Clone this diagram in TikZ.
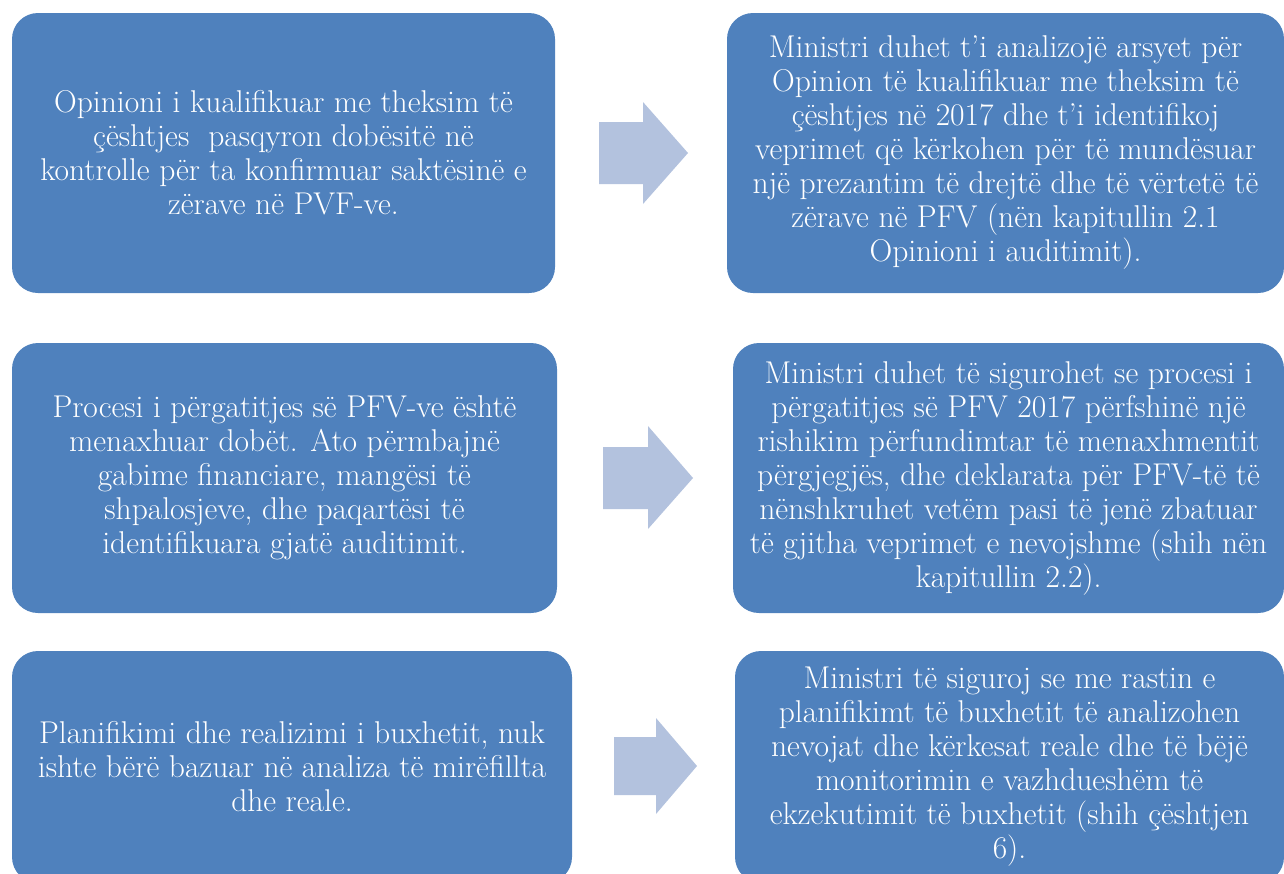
\documentclass[tikz,border=0pt]{standalone}
\usepackage{fontspec}
\definecolor{boxblue}{HTML}{4F81BD}
\definecolor{arrowblue}{HTML}{B3C2DE}
\tikzset{
  box/.style={fill=boxblue, rounded corners=26pt, text=white, align=center,
    inner sep=0pt, font=\fontsize{31.5}{34}\selectfont},
  blockarrow/.style={fill=arrowblue, draw=none}
}
\begin{document}
\begin{tikzpicture}[x=1pt,y=-1pt]
\useasboundingbox (0,0) rectangle (1284,873);
\clip (0,0) rectangle (1284,873);
\node[box, minimum width=543pt, minimum height=280pt] (l1) at (283.5,153)
 {Opinioni i kualifikuar me theksim të\\çështjes~ pasqyron dobësitë në\\kontrolle për ta konfirmuar saktësinë e\\zërave në PVF-ve.};
\node[box, minimum width=557pt, minimum height=280pt] (r1) at (1005.5,153)
 {Ministri duhet t'i analizojë arsyet për\\Opinion të kualifikuar me theksim të\\çështjes në 2017 dhe t'i identifikoj\\veprimet që kërkohen për të mundësuar\\një prezantim të drejtë dhe të vërtetë të\\zërave në PFV (nën kapitullin 2.1\\Opinioni i auditimit).};
\node[box, minimum width=545pt, minimum height=270pt] (l2) at (284.5,478)
 {Procesi i përgatitjes së PFV-ve është\\menaxhuar dobët. Ato përmbajnë\\gabime financiare, mangësi të\\shpalosjeve, dhe paqartësi të\\identifikuara gjatë auditimit.};
\node[box, minimum width=551pt, minimum height=270pt] (r2) at (1008.5,478)
 {Ministri duhet të sigurohet se procesi i\\përgatitjes së PFV 2017 përfshinë një\\rishikim përfundimtar të menaxhmentit\\përgjegjës, dhe deklarata për PFV-të të\\nënshkruhet vetëm pasi të jenë zbatuar\\të gjitha veprimet e nevojshme (shih nën\\kapitullin 2.2).};
\node[box, minimum width=560pt, minimum height=232pt] (l3) at (292,767)
 {Planifikimi dhe realizimi i buxhetit, nuk\\ishte bërë bazuar në analiza të mirëfillta\\dhe reale.};
\node[box, minimum width=549pt, minimum height=232pt] (r3) at (1009.5,767)
 {Ministri të siguroj se me rastin e\\planifikimt të buxhetit të analizohen\\nevojat dhe kërkesat reale dhe të bëjë\\monitorimin e vazhdueshëm të\\ekzekutimit të buxhetit (shih çështjen\\6).};
\fill[blockarrow] (599,122) -- (643,122) -- (643,102) -- (688,153) -- (643,204) -- (643,184) -- (599,184) -- cycle;
\fill[blockarrow] (603,447) -- (648,447) -- (648,426) -- (693,478) -- (648,529) -- (648,509) -- (603,509) -- cycle;
\fill[blockarrow] (614,737) -- (656,737) -- (656,718) -- (697,766) -- (656,814) -- (656,795) -- (614,795) -- cycle;
\end{tikzpicture}
\end{document}
